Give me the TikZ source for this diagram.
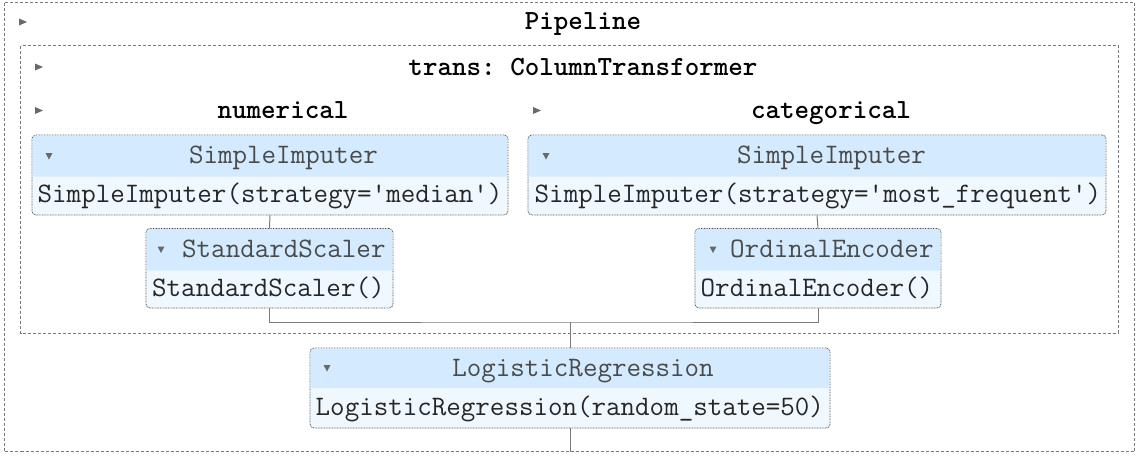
\documentclass[tikz,border=0pt]{standalone}
\usepackage{fontspec}
\definecolor{hdrfill}{HTML}{D4EBFF}
\definecolor{bodyfill}{HTML}{F0F8FF}
\definecolor{frame}{HTML}{7A7A7A}
\definecolor{trig}{HTML}{696969}
\definecolor{htext}{HTML}{4A4A4A}
\definecolor{btext}{HTML}{262626}
\newcommand\estbox[6]{%
  \node[estim, minimum width={#4-#2}, minimum height={#6-#3}] (#1) at ({(#2+#4)/2},{(#3+#6)/2}) {};
  \fill[hdrfill] (#2+0.7,#5) [rounded corners=3.3pt] -- (#2+0.7,#3+0.7) -- (#4-0.7,#3+0.7) [sharp corners] -- (#4-0.7,#5) -- cycle;
}
\newcommand\righttri[2]{\fill[trig] (#1,#2-3.5) -- ++(8,3.5) -- ++(-8,3.5) -- cycle;}
\newcommand\downtri[2]{\fill[trig] (#1-3.5,#2-3) -- ++(7,0) -- ++(-3.5,6.5) -- cycle;}
\begin{document}
\frenchspacing
\begin{tikzpicture}[x=1pt,y=-1pt,
  estim/.style={draw=black!70, dash pattern=on 0.8pt off 0.8pt, line width=0.8pt, fill=bodyfill, rounded corners=4pt, inner sep=0pt},
  container/.style={draw=frame, dash pattern=on 3pt off 2pt, line width=0.8pt},
  title/.style={font=\ttfamily\bfseries\fontsize{27.7}{30}\selectfont, text=black, anchor=base, inner sep=0pt},
  htxt/.style={font=\ttfamily\fontsize{28.2}{30}\selectfont, text=htext, anchor=base, inner sep=0pt},
  btxt/.style={font=\ttfamily\fontsize{28.2}{30}\selectfont, text=btext, anchor=base west, inner sep=0pt},
  conn/.style={draw=frame, line width=1pt}]
\useasboundingbox (0,0) rectangle (1139,455);
% containers
\draw[container] (4.5,2.5) rectangle (1134.5,451.5);
\draw[container] (20.5,45.5) rectangle (1118,333);
% titles
\righttri{19}{22}
\node[title] (tpipe) at (583,29) {Pipeline};
\righttri{35}{67}
\node[title] (ttrans) at (583,75) {trans: ColumnTransformer};
\righttri{35}{110.5}
\node[title] (tnum) at (283,118) {numerical};
\righttri{533}{110.5}
\node[title] (tcat) at (831,118) {categorical};
% estimator boxes
\estbox{si1}{32}{135}{508}{176.5}{215}
\estbox{si2}{528}{135}{1106}{176.5}{215}
\estbox{ss}{146}{228.5}{393}{270.5}{308}
\estbox{oe}{695}{228.5}{941}{270.5}{308}
\estbox{lr}{310}{348}{830}{388}{428}
% box texts
\downtri{49}{156}
\node[htxt] (si1h) at (283.5,163) {SimpleImputer};
\node[btxt] (si1b) at (37.5,202) {SimpleImputer(strategy='median')};
\downtri{546}{156}
\node[htxt] (si2h) at (831.5,163) {SimpleImputer};
\node[btxt] (si2b) at (534.5,202) {SimpleImputer(strategy='most\_frequent')};
\downtri{161}{249.5}
\node[htxt,anchor=base west] (ssh) at (182,257) {StandardScaler};
\node[btxt] (ssb) at (152,296) {StandardScaler()};
\downtri{713}{249.5}
\node[htxt,anchor=base west] (oeh) at (730,257) {OrdinalEncoder};
\node[btxt] (oeb) at (700.5,296) {OrdinalEncoder()};
\downtri{327}{368}
\node[htxt] (lrh) at (583,376) {LogisticRegression};
\node[btxt] (lrb) at (315.5,415) {LogisticRegression(random\_state=50)};
% connectors
\coordinate (join) at (570,322);
\coordinate (endc) at (570,451.5);
\draw[conn] (si1.south) -- (ss.north);
\draw[conn] (si2.south) -- (oe.north);
\draw[conn] (ss.south) |- (join) -| (oe.south);
\draw[conn] (join) -- (lr.north);
\draw[conn] (lr.south) -- (endc);
\end{tikzpicture}
\end{document}
